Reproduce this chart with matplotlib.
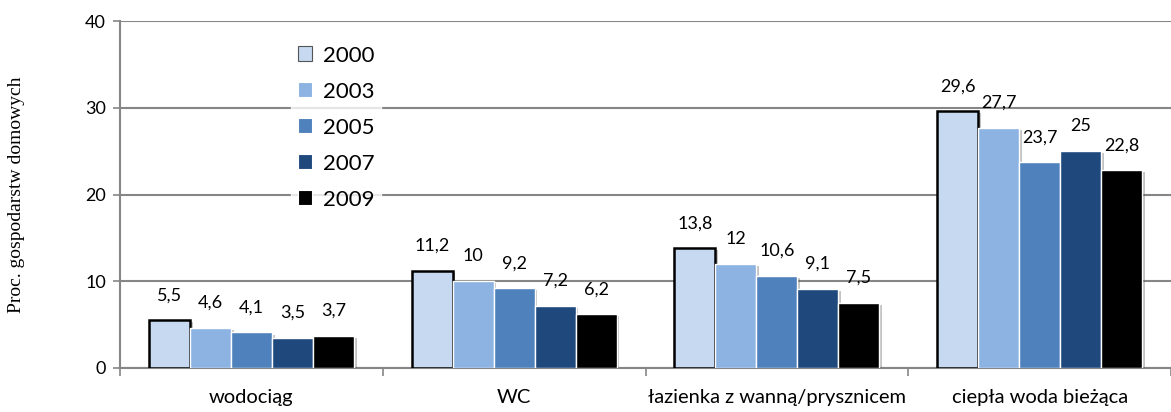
import matplotlib
matplotlib.use("Agg")
import matplotlib.pyplot as plt
import matplotlib.patheffects as pe
import numpy as np

categories = ["wodociąg", "WC", "łazienka z wanną/prysznicem", "ciepła woda bieżąca"]
years = ["2000", "2003", "2005", "2007", "2009"]
values = {
    "2000": [5.5, 11.2, 13.8, 29.6],
    "2003": [4.6, 10, 12, 27.7],
    "2005": [4.1, 9.2, 10.6, 23.7],
    "2007": [3.5, 7.2, 9.1, 25],
    "2009": [3.7, 6.2, 7.5, 22.8],
}
labels = {
    "2000": ["5,5", "11,2", "13,8", "29,6"],
    "2003": ["4,6", "10", "12", "27,7"],
    "2005": ["4,1", "9,2", "10,6", "23,7"],
    "2007": ["3,5", "7,2", "9,1", "25"],
    "2009": ["3,7", "6,2", "7,5", "22,8"],
}
colors = ["#C6D9F1", "#8DB3E2", "#4F81BD", "#1F497D", "#000000"]

plt.rcParams['font.family'] = ['Lato', 'DejaVu Sans']

fig = plt.figure(figsize=(11.71, 4.12), dpi=100)
ax = fig.add_axes([120/1171, 1-368/412, (1171-120)/1171, (368-21)/412])

x = np.arange(len(categories))
bw = 0.156
shadow = [pe.SimplePatchShadow(offset=(2, -1.5), shadow_rgbFace='#555555', alpha=0.35), pe.Normal()]
for i, y in enumerate(years):
    pos = x + (i - 2) * bw
    ec = 'black' if i == 0 else 'white'
    lw = 1.8 if i == 0 else 1.0
    bars = ax.bar(pos, values[y], width=bw, color=colors[i], edgecolor=ec,
                  linewidth=lw, label=y, zorder=3)
    for b in bars:
        b.set_path_effects(shadow)
    for p, v, t in zip(pos, values[y], labels[y]):
        ax.annotate(t, (p, v), xytext=(0, 18), textcoords='offset points',
                    ha='center', va='center', fontsize=13, zorder=5)

ax.set_xlim(-0.5, 3.5)
ax.set_ylim(0, 40)
ax.set_yticks([0, 10, 20, 30, 40])
ax.tick_params(axis='y', labelsize=13, length=5, color='#868686', direction='out', pad=5)
ax.set_xticks(x)
ax.set_xticklabels(categories, fontsize=14.5)
ax.tick_params(axis='x', length=0, pad=15)
ax.set_xticks([-0.5, 0.5, 1.5, 2.5, 3.5], minor=True)
ax.tick_params(axis='x', which='minor', length=6, color='#868686', width=1.2)
ax.grid(axis='y', color='#868686', linewidth=1.5, zorder=0)
for s in ['top', 'right']:
    ax.spines[s].set_visible(False)
ax.spines['left'].set_color('#868686')
ax.spines['left'].set_linewidth(1.5)
ax.spines['bottom'].set_color('#868686')
ax.spines['bottom'].set_linewidth(1.5)
ax.tick_params(axis='y', width=1.2)

ax.set_ylabel("Proc. gospodarstw domowych", family='Liberation Serif', fontsize=14)
ax.yaxis.set_label_coords(-95/1051, 0.5)

leg = ax.legend(loc='upper left', bbox_to_anchor=(0.152, 0.98), frameon=True, fontsize=16,
                handlelength=0.65, handleheight=0.65, handletextpad=0.5, labelspacing=0.72,
                borderpad=0.3, fancybox=False)
leg.get_frame().set_edgecolor('white')
leg.get_frame().set_facecolor('white')
leg.set_zorder(6)
for h in leg.legend_handles:
    h.set_path_effects([])
    h.set_linewidth(0.8)
leg.legend_handles[0].set_edgecolor('#555555')

fig.savefig("out.png", dpi=100)
